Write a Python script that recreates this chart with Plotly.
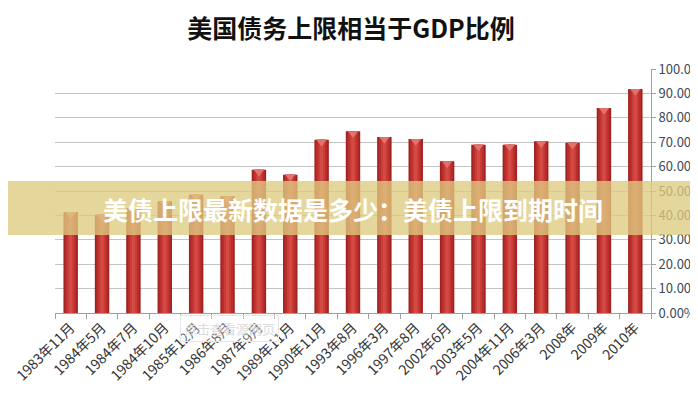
import plotly.graph_objects as go

categories = ["1983年11月", "1984年5月", "1984年7月", "1984年10月", "1985年12月",
              "1986年8月", "1987年9月", "1989年11月", "1990年11月", "1993年8月",
              "1996年3月", "1997年8月", "2002年6月", "2003年5月", "2004年11月",
              "2006年3月", "2008年", "2009年", "2010年"]
ratio = [0.414, 0.403, 0.43, 0.458, 0.485, 0.478, 0.587, 0.567, 0.71, 0.745,
         0.721, 0.713, 0.622, 0.69, 0.69, 0.704, 0.698, 0.84, 0.918]

title_text = "美国债务上限相当于GDP比例"
banner_text = "美债上限最新数据是多少：美债上限到期时间"
watermark_text = "点击查看源网页"

FONT = "Noto Sans CJK SC, Microsoft YaHei, sans-serif"

fig = go.Figure()
# cylinder-like shading: layered bars
layers = [(0.46, "#9e2220"), (0.36, "#b92e2b"), (0.22, "#c93c37"), (0.10, "#d44b45")]
for w, c in layers:
    fig.add_trace(go.Bar(x=categories, y=ratio, width=w, marker=dict(color=c, line=dict(width=0)),
                         hoverinfo="skip", showlegend=False))
# light top cap of each cylinder
fig.add_trace(go.Scatter(x=categories, y=[v - 0.009 for v in ratio], mode="markers",
                         marker=dict(symbol="triangle-down", size=9, color="#e2726b", line=dict(width=0)),
                         hoverinfo="skip", showlegend=False))

PW, PH = 596, 244
fig.update_layout(
    width=698, height=400,
    margin=dict(l=47, r=55, t=61, b=95),
    paper_bgcolor="white", plot_bgcolor="white",
    barmode="overlay",
    font=dict(family=FONT, color="#333333"),
    title=dict(text="<b>" + title_text + "</b>", x=343 / 698, xanchor="center", y=1 - 21 / 400, yanchor="middle",
               font=dict(size=25, color="#111111", family=FONT)),
    xaxis=dict(type="category", range=[-0.5, len(categories) - 0.5], tickangle=-45, tickson="boundaries",
               ticks="outside", ticklen=5,
               tickcolor="#a0a0a0", showline=True, linecolor="#a0a0a0", linewidth=1, automargin=False,
               showgrid=False, tickfont=dict(size=14, color="#333333", family=FONT)),
    yaxis=dict(side="right", range=[0, 1.0], dtick=0.1, tickformat=".2%", showgrid=True,
               gridcolor="#c4c4c4", gridwidth=1, zeroline=False, showline=True, automargin=False,
               linecolor="#a0a0a0", ticks="outside", ticklen=4, tickcolor="#a0a0a0",
               tickfont=dict(size=13, color="#3c4a5a", family=FONT)),
    shapes=[dict(type="rect", xref="paper", yref="paper", x0=-0.2, x1=1.2,
                 y0=(305 - 227) / PH, y1=(305 - 173) / PH,
                 fillcolor="rgba(222,202,128,0.78)", line=dict(width=0), layer="above")],
    annotations=[
        dict(text="<b>" + banner_text + "</b>", xref="paper", yref="paper",
             x=(345 - 47) / PW, y=(305 - 201) / PH, xanchor="center", yanchor="middle", showarrow=False,
             font=dict(size=25, color="white", family=FONT)),
        dict(text=watermark_text, xref="paper", yref="paper",
             x=(221 - 47) / PW, y=(305 - 320) / PH, xanchor="center", yanchor="middle", showarrow=False,
             font=dict(size=13, color="#dcdcdc", family=FONT),
             bordercolor="#e6e6e6", borderwidth=1, borderpad=3, bgcolor="rgba(255,255,255,0.3)"),
    ],
)

fig.write_html("out.html")
